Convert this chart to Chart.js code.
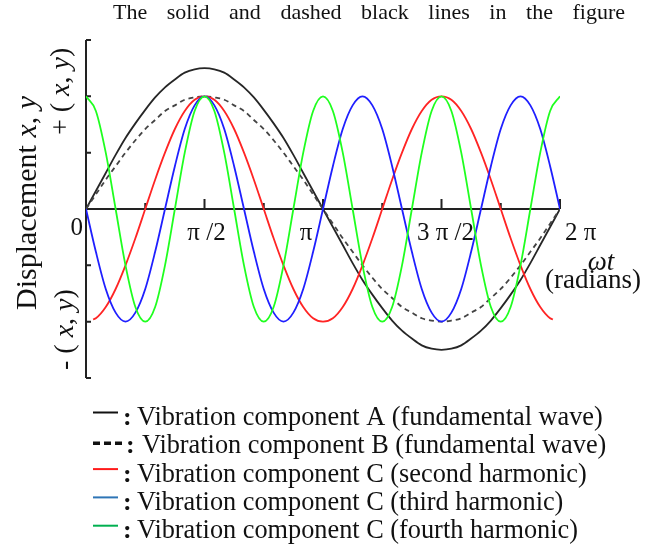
<!DOCTYPE html>
<html>
<head>
<meta charset="utf-8">
<script src="https://cdn.jsdelivr.net/npm/chart.js@4.4.1/dist/chart.umd.min.js"></script>
<style>
  body { margin: 0; background: #fff; }
</style>
</head>
<body>
<canvas id="grafico" width="650" height="550"></canvas>
<script>
// muestras en multiplos de pi/24 (0 .. 2 pi)
const pasos = [0, 1, 2, 3, 4, 5, 6, 7, 8, 9, 10, 11, 12, 13, 14, 15, 16, 17, 18, 19, 20, 21, 22, 23, 24,
  25, 26, 27, 28, 29, 30, 31, 32, 33, 34, 35, 36, 37, 38, 39, 40, 41, 42, 43, 44, 45, 46, 47, 48];
// la curva roja no llega hasta los extremos
const pasosRojo = [0.72, 1, 2, 3, 4, 5, 6, 7, 8, 9, 10, 11, 12, 13, 14, 15, 16, 17, 18, 19, 20, 21, 22, 23, 24,
  25, 26, 27, 28, 29, 30, 31, 32, 33, 34, 35, 36, 37, 38, 39, 40, 41, 42, 43, 44, 45, 46, 47, 47.28];

const compA = [0, 0.16, 0.32, 0.48, 0.63, 0.76, 0.88, 0.99, 1.08, 1.15, 1.21, 1.24, 1.25,
  1.24, 1.21, 1.15, 1.08, 0.99, 0.88, 0.76, 0.63, 0.48, 0.32, 0.16, 0,
  -0.16, -0.32, -0.48, -0.63, -0.76, -0.88, -0.99, -1.08, -1.15, -1.21, -1.24, -1.25,
  -1.24, -1.21, -1.15, -1.08, -0.99, -0.88, -0.76, -0.63, -0.48, -0.32, -0.16, 0];
const compB = [0, 0.13, 0.26, 0.38, 0.5, 0.61, 0.71, 0.79, 0.87, 0.92, 0.97, 0.99, 1,
  0.99, 0.97, 0.92, 0.87, 0.79, 0.71, 0.61, 0.5, 0.38, 0.26, 0.13, 0,
  -0.13, -0.26, -0.38, -0.5, -0.61, -0.71, -0.79, -0.87, -0.92, -0.97, -0.99, -1,
  -0.99, -0.97, -0.92, -0.87, -0.79, -0.71, -0.61, -0.5, -0.38, -0.26, -0.13, 0];
const segunda = [-0.98, -0.97, -0.87, -0.71, -0.5, -0.26, 0, 0.26, 0.5, 0.71, 0.87, 0.97, 1,
  0.97, 0.87, 0.71, 0.5, 0.26, 0, -0.26, -0.5, -0.71, -0.87, -0.97, -1,
  -0.97, -0.87, -0.71, -0.5, -0.26, 0, 0.26, 0.5, 0.71, 0.87, 0.97, 1,
  0.97, 0.87, 0.71, 0.5, 0.26, 0, -0.26, -0.5, -0.71, -0.87, -0.97, -0.98];
const tercera = [0, -0.38, -0.71, -0.92, -1, -0.92, -0.71, -0.38, 0, 0.38, 0.71, 0.92, 1, 0.92, 0.71, 0.38,
  0, -0.38, -0.71, -0.92, -1, -0.92, -0.71, -0.38, 0, 0.38, 0.71, 0.92, 1, 0.92, 0.71, 0.38,
  0, -0.38, -0.71, -0.92, -1, -0.92, -0.71, -0.38, 0, 0.38, 0.71, 0.92, 1, 0.92, 0.71, 0.38, 0];
const cuarta = [1, 0.87, 0.5, 0, -0.5, -0.87, -1, -0.87, -0.5, 0, 0.5, 0.87,
  1, 0.87, 0.5, 0, -0.5, -0.87, -1, -0.87, -0.5, 0, 0.5, 0.87,
  1, 0.87, 0.5, 0, -0.5, -0.87, -1, -0.87, -0.5, 0, 0.5, 0.87,
  1, 0.87, 0.5, 0, -0.5, -0.87, -1, -0.87, -0.5, 0, 0.5, 0.87, 1];

// ejes
const marcasX = [6, 12, 18, 24, 30, 36, 42, 48];
const marcasY = [-1.5, -1, -0.5, 0.5, 1, 1.5];
const etiquetasX = ['0', 'π /2', 'π', '3 π /2', '2 π'];
const valoresEtiquetasX = [0, 12, 24, 36, 48];

const titulo = 'The solid and dashed black lines in the figure';
const leyendaTextos = [
  'Vibration component A (fundamental wave)',
  'Vibration component B (fundamental wave)',
  'Vibration component C (second harmonic)',
  'Vibration component C (third harmonic)',
  'Vibration component C (fourth harmonic)'
];
const leyendaColores = ['#111111', '#111111', '#ff1a1a', '#2e75b6', '#00b050'];

const serif = '"Liberation Serif", "Times New Roman", serif';

function puntos(xs, ys) {
  return xs.map((v, i) => ({ x: v, y: ys[i] }));
}

function textoMixto(ctx, partes, size, x, y) {
  let cx = x;
  partes.forEach(([t, it]) => {
    ctx.font = (it ? 'italic ' : '') + size + 'px ' + serif;
    ctx.fillText(t, cx, y);
    cx += ctx.measureText(t).width;
  });
}

const ejes = {
  id: 'ejes',
  beforeDatasetsDraw(chart) {
    const { ctx, scales: { x, y } } = chart;
    const x0 = x.getPixelForValue(0);
    const y0 = y.getPixelForValue(0);
    ctx.save();
    ctx.strokeStyle = '#222';
    ctx.lineWidth = 2;
    ctx.beginPath();
    ctx.moveTo(x0, y.getPixelForValue(1.5));
    ctx.lineTo(x0, y.getPixelForValue(-1.5));
    ctx.moveTo(x0, y0);
    ctx.lineTo(x.getPixelForValue(48), y0);
    marcasY.forEach(v => {
      const py = y.getPixelForValue(v);
      ctx.moveTo(x0, py);
      ctx.lineTo(x0 + 5, py);
    });
    marcasX.forEach(v => {
      const px = x.getPixelForValue(v);
      ctx.moveTo(px, y0);
      ctx.lineTo(px, y0 - (v % 12 === 0 ? 10 : 6));
    });
    ctx.stroke();
    ctx.restore();
  },
  afterDraw(chart) {
    const { ctx, scales: { x, y } } = chart;
    ctx.save();
    ctx.fillStyle = '#111';

    // titulo justificado
    ctx.font = '22px ' + serif;
    const palabras = titulo.split(' ');
    const anchos = palabras.map(p => ctx.measureText(p).width);
    const inicio = 113, fin = 625;
    const hueco = (fin - inicio - anchos.reduce((a, b) => a + b, 0)) / (palabras.length - 1);
    let tx = inicio;
    palabras.forEach((p, i) => {
      ctx.fillText(p, tx, 19);
      tx += anchos[i] + hueco;
    });

    // etiquetas del eje x
    ctx.font = '25px ' + serif;
    const desplaz = [[-3, 235, 'right'], [2, 240, 'center'], [-17, 240, 'center'], [4, 240, 'center'], [5, 240, 'left']];
    etiquetasX.forEach((t, i) => {
      const [dx, by, al] = desplaz[i];
      ctx.textAlign = al;
      ctx.fillText(t, x.getPixelForValue(valoresEtiquetasX[i]) + dx, by);
    });
    ctx.font = 'italic 27px ' + serif;
    ctx.textAlign = 'center';
    ctx.fillText('ωt', 601, 270);
    ctx.font = '27px ' + serif;
    ctx.textAlign = 'right';
    ctx.fillText('(radians)', 641, 288);
    ctx.textAlign = 'left';

    // textos verticales
    const vertical = (px, py, partes, size) => {
      ctx.save();
      ctx.translate(px, py);
      ctx.rotate(-Math.PI / 2);
      textoMixto(ctx, partes, size, 0, 0);
      ctx.restore();
    };
    vertical(36, 310, [['Displacement ', false], ['x', true], [', ', false], ['y', true]], 30);
    vertical(69, 135, [['+ ( ', false], ['x', true], [', ', false], ['y', true], [')', false]], 28);
    vertical(73, 370, [['- ( ', false], ['x', true], [', ', false], ['y', true], [')', false]], 28);

    // leyenda
    leyendaTextos.forEach((t, i) => {
      const base = 425 + i * 28.3;
      const discont = i === 1;
      ctx.strokeStyle = leyendaColores[i];
      ctx.lineWidth = discont ? 3.5 : 2;
      ctx.setLineDash(discont ? [7, 4] : []);
      ctx.beginPath();
      ctx.moveTo(93, base - (discont ? 10 : 12.5));
      ctx.lineTo(discont ? 123 : 118, base - (discont ? 10 : 12.5));
      ctx.stroke();
      ctx.setLineDash([]);
      ctx.font = 'bold 26px ' + serif;
      ctx.fillText(':', discont ? 126 : 123, base);
      ctx.font = '26.3px ' + serif;
      ctx.fillText(t, discont ? 142 : 137, base);
    });
    ctx.restore();
  }
};

new Chart(document.getElementById('grafico'), {
  type: 'line',
  data: {
    datasets: [
      { label: leyendaTextos[0], data: puntos(pasos, compA), borderColor: '#262626', order: 5 },
      { label: leyendaTextos[1], data: puntos(pasos, compB), borderColor: '#444444', borderDash: [5, 4], order: 4 },
      { label: leyendaTextos[2], data: puntos(pasosRojo, segunda), borderColor: '#ff2424', order: 3 },
      { label: leyendaTextos[3], data: puntos(pasos, tercera), borderColor: '#1f1fff', order: 2 },
      { label: leyendaTextos[4], data: puntos(pasos, cuarta), borderColor: '#1fff1f', order: 1 }
    ]
  },
  options: {
    responsive: false,
    animation: false,
    layout: { padding: { left: 86, right: 90, top: 40, bottom: 172 } },
    plugins: { legend: { display: false }, tooltip: { enabled: false } },
    elements: {
      point: { radius: 0 },
      line: { borderWidth: 1.8, cubicInterpolationMode: 'monotone', fill: false }
    },
    scales: {
      x: { type: 'linear', min: 0, max: 48, display: false },
      y: { min: -1.5, max: 1.5, display: false }
    }
  },
  plugins: [ejes]
});
</script>
</body>
</html>
